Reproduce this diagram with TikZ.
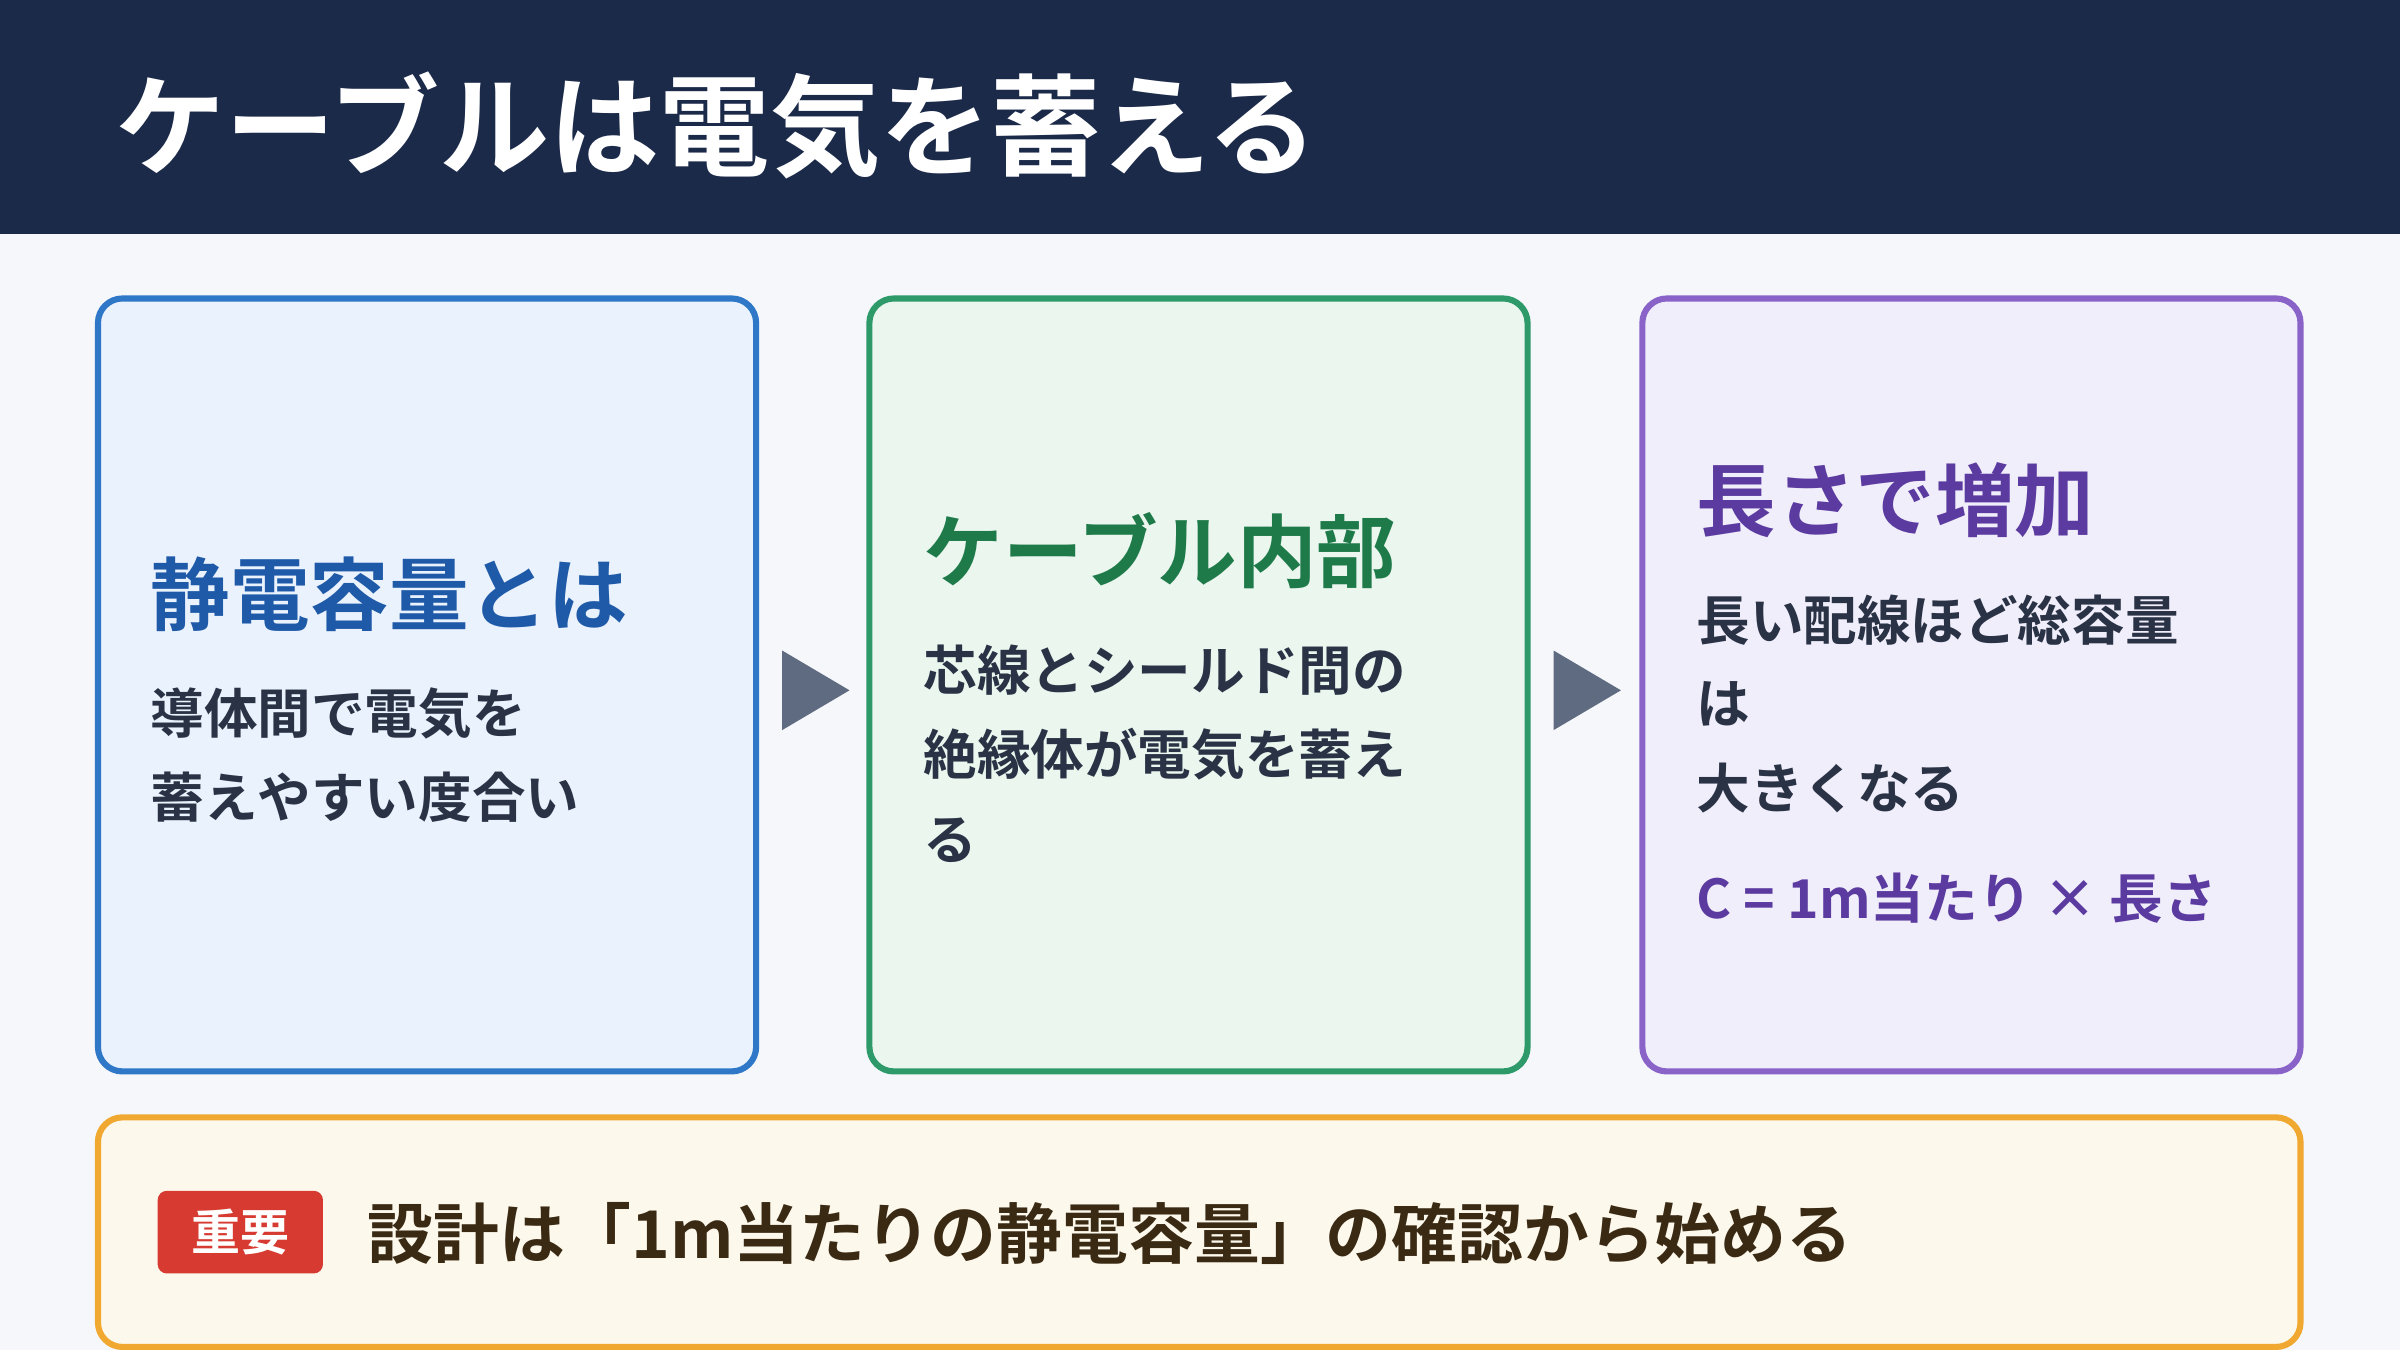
\documentclass[tikz,border=0pt]{standalone}
\usepackage{fontspec}
\setmainfont{Noto Sans CJK JP}[BoldFont={Noto Sans CJK JP Bold}]
\begin{document}
\begin{tikzpicture}[x=0.5pt,y=-0.5pt,
 card/.style={rounded corners=8pt,line width=2pt},
 head/.style={anchor=west,font=\bfseries\fontsize{26}{30}\selectfont,inner sep=0},
 body/.style={anchor=west,font=\bfseries\fontsize{17.5}{22}\selectfont,inner sep=0,text=bodyc},
 tri/.style={fill=arrc}]
\definecolor{bg}{HTML}{F5F7FB}\definecolor{hdr}{HTML}{1C2A4A}
\definecolor{bodyc}{HTML}{2A3245}\definecolor{arrc}{HTML}{5F6B80}
\definecolor{b1}{HTML}{2F78C8}\definecolor{f1}{HTML}{EAF2FD}\definecolor{h1}{HTML}{1E5AA8}
\definecolor{b2}{HTML}{2E9A6A}\definecolor{f2}{HTML}{EAF6EE}\definecolor{h2}{HTML}{1F7A4A}
\definecolor{b3}{HTML}{8A63C8}\definecolor{f3}{HTML}{F1EEFB}\definecolor{h3}{HTML}{5B3BA0}
\definecolor{b4}{HTML}{F0A830}\definecolor{f4}{HTML}{FDF8EC}\definecolor{t4}{HTML}{3A2A14}
\definecolor{red}{HTML}{D63A30}
\useasboundingbox (0,0) rectangle (1568,882);
\fill[bg] (0,0) rectangle (1568,882);
\fill[hdr] (0,0) rectangle (1568,153);
\node[anchor=west,inner sep=0,text=white,font=\bfseries\fontsize{36}{40}\selectfont] (title) at (75,82) {ケーブルは電気を蓄える};
\draw[card,draw=b1,fill=f1] (64,195) rectangle (494,700);
\node[head,text=h1] (h1) at (98,388) {静電容量とは};
\node[body] (t1a) at (98,466) {導体間で電気を};
\node[body] (t1b) at (98,521) {蓄えやすい度合い};
\draw[card,draw=b2,fill=f2] (568,195) rectangle (998,700);
\node[head,text=h2] (h2) at (603,360) {ケーブル内部};
\node[body] (t2a) at (603,438) {芯線とシールド間の};
\node[body] (t2b) at (603,493) {絶縁体が電気を蓄え};
\node[body] (t2c) at (603,549) {る};
\draw[card,draw=b3,fill=f3] (1073,195) rectangle (1503,700);
\node[head,text=h3] (h3) at (1108,327) {長さで増加};
\node[body] (t3a) at (1108,405) {長い配線ほど総容量};
\node[body] (t3b) at (1108,460) {は};
\node[body] (t3c) at (1108,515) {大きくなる};
\node[body,text=h3] (t3d) at (1108,587) {C = 1m当たり × 長さ};
\fill[tri] (511,425) -- (555,451) -- (511,477) -- cycle;
\fill[tri] (1015,425) -- (1059,451) -- (1015,477) -- cycle;
\draw[card,draw=b4,fill=f4] (64,730) rectangle (1503,880);
\fill[red,rounded corners=3pt] (103,778) rectangle (211,832);
\node[inner sep=0,text=white,font=\bfseries\fontsize{16}{20}\selectfont] (badge) at (157,805) {重要};
\node[anchor=west,inner sep=0,text=t4,font=\bfseries\fontsize{21.5}{26}\selectfont] (note) at (240,806) {設計は「1m当たりの静電容量」の確認から始める};
\end{tikzpicture}
\end{document}
